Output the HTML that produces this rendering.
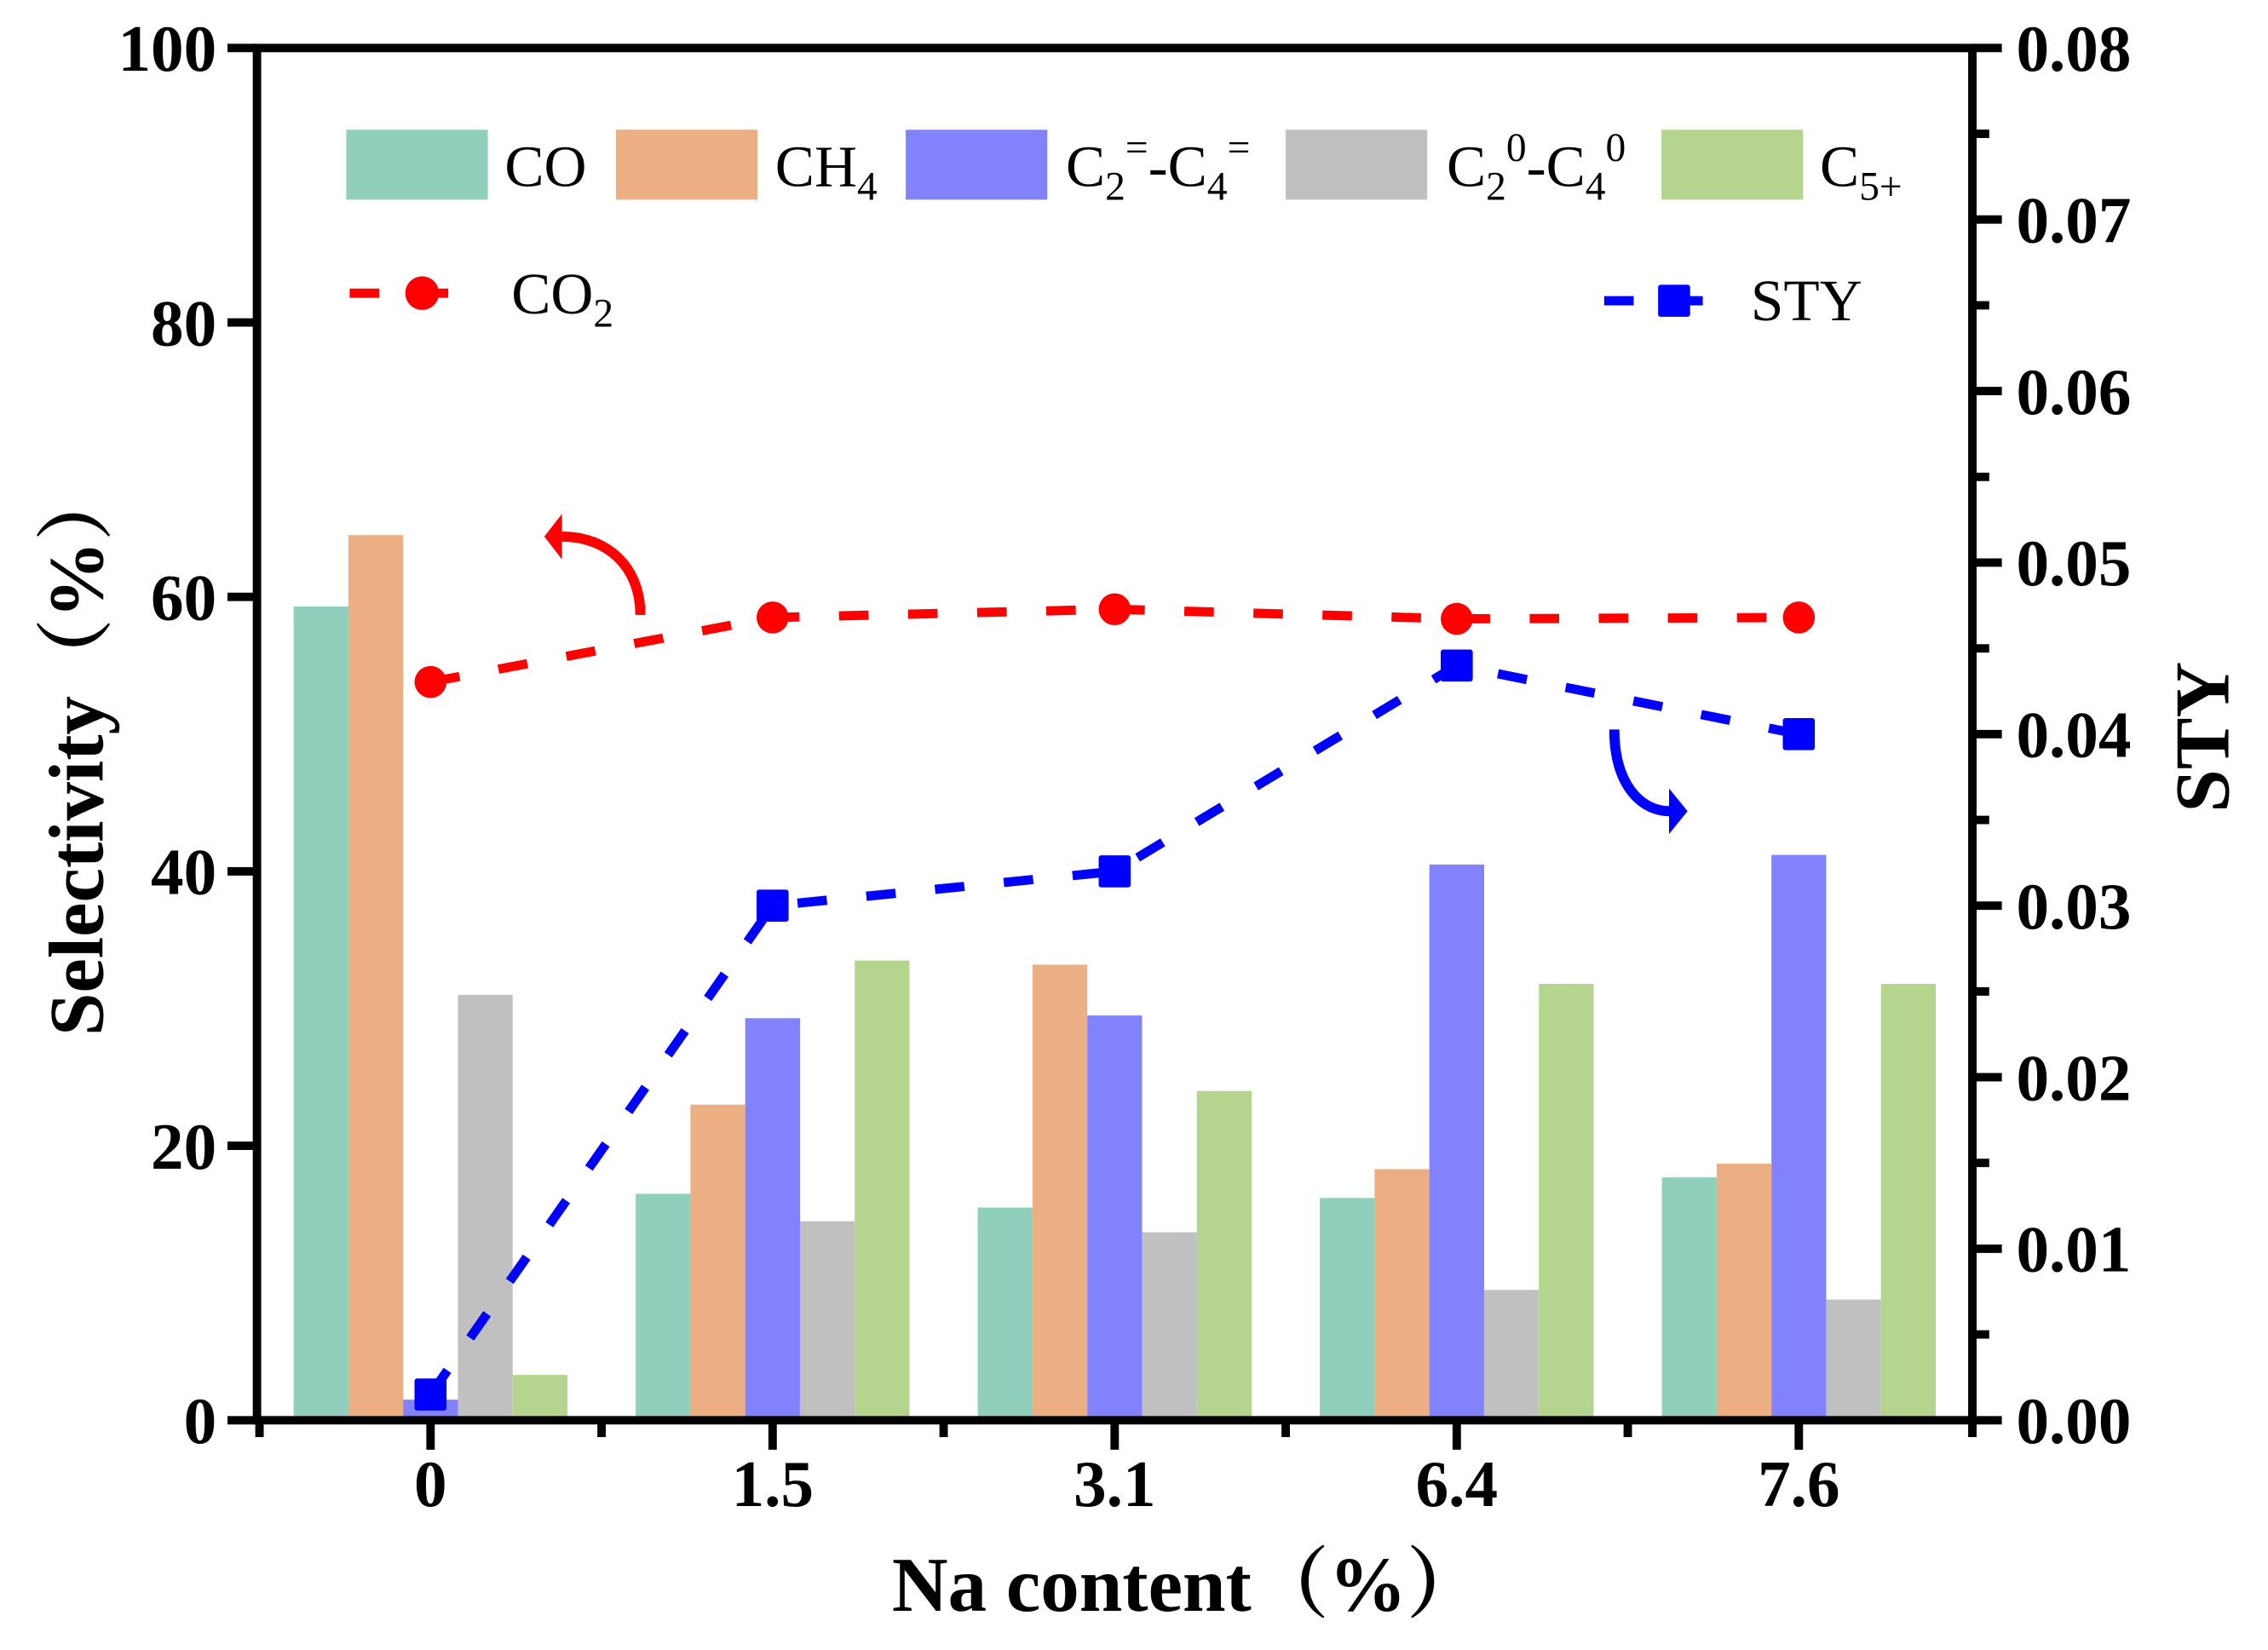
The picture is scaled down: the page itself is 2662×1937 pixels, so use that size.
<!DOCTYPE html>
<html><head><meta charset="utf-8"><style>
html,body{margin:0;padding:0;background:#fff;}
svg{display:block;}
text{font-family:"Liberation Serif","Noto Serif CJK SC",serif;}
</style></head><body>
<svg id="chart" width="2662" height="1937" viewBox="0 0 2662 1937" xmlns="http://www.w3.org/2000/svg">
<g transform="scale(0.9889)">
<g id="bars"></g>
<g id="lines"></g>
<g id="axes"></g>
<g font-size="70">
  <rect x="411" y="154" width="168" height="83" fill="#90cfbb"/>
  <text x="599" y="221">CO</text>
  <rect x="731" y="154" width="168" height="83" fill="#ebaf83"/>
  <text x="920" y="221">CH<tspan font-size="48" dy="16">4</tspan></text>
  <rect x="1075" y="154" width="168" height="83" fill="#8282fc"/>
  <text x="1265" y="221">C<tspan font-size="48" dy="16">2</tspan><tspan font-size="48" dy="-46">=</tspan><tspan dy="30">-C</tspan><tspan font-size="48" dy="16">4</tspan><tspan font-size="48" dy="-46">=</tspan></text>
  <rect x="1526" y="154" width="168" height="83" fill="#c0c0c0"/>
  <text x="1717" y="221">C<tspan font-size="48" dy="16">2</tspan><tspan font-size="48" dy="-46">0</tspan><tspan dy="30">-C</tspan><tspan font-size="48" dy="16">4</tspan><tspan font-size="48" dy="-46">0</tspan></text>
  <rect x="1972" y="154" width="168" height="83" fill="#b5d48e"/>
  <text x="2160" y="221">C<tspan font-size="48" dy="16">5+</tspan></text>
  <line x1="415" y1="348" x2="566" y2="348" stroke="#ff0000" stroke-width="11" stroke-dasharray="35,47"/>
  <ellipse cx="501" cy="348" rx="20" ry="20" fill="#ff0000"/>
  <text x="607" y="372">CO<tspan font-size="48" dy="16">2</tspan></text>
  <line x1="1904" y1="357" x2="2055" y2="357" stroke="#0000ff" stroke-width="11" stroke-dasharray="35,47"/>
  <rect x="1968" y="338" width="38" height="38" rx="3" fill="#0000ff"/>
  <text x="2078" y="380">STY</text>
</g>
<g>
  <path d="M760,730 C760,672 720,637 667,637" fill="none" stroke="#ff0000" stroke-width="12"/>
  <polygon points="646,637 667,610 667,664" fill="#ff0000"/>
  <path d="M1916,866 C1916,928 1945,963 1982,963" fill="none" stroke="#0000ff" stroke-width="12"/>
  <polygon points="2003,963 1981,936 1981,990" fill="#0000ff"/>
</g>
<text transform="translate(122,890) rotate(-90)" text-anchor="middle" font-size="92" font-weight="bold">Selectivity（%）</text>
<text transform="translate(2645,875) rotate(-90)" text-anchor="middle" font-size="92" font-weight="bold">STY</text>
<text x="1410" y="1912" text-anchor="middle" font-size="92" font-weight="bold">Na content（%）</text>
</g>
</svg>
<script>
const categories = ["0","1.5","3.1","6.4","7.6"];
const seriesNames = ["CO","CH4","C2=-C4=","C20-C40","C5+"];
const coVals = [59.3,16.5,15.5,16.2,17.7];
const ch4Vals = [64.5,23.0,33.2,18.3,18.7];
const olefinVals = [1.5,29.3,29.5,40.5,41.2];
const paraffinVals = [31.0,14.5,13.7,9.5,8.8];
const c5Vals = [3.3,33.5,24.0,31.8,31.8];
const co2Vals = [53.8,58.5,59.1,58.4,58.5];
const styVals = [0.0015,0.030,0.032,0.044,0.040];
const yTicks = [0,20,40,60,80,100];
const y2Ticks = [0,0.01,0.02,0.03,0.04,0.05,0.06,0.07,0.08];
const y2TickLabels = ["0.00","0.01","0.02","0.03","0.04","0.05","0.06","0.07","0.08"];

const NS="http://www.w3.org/2000/svg";
const L=305,R=2341,T=57,B=1686;
const X=i=>511+i*406;
const Y=v=>B-v*(B-T)/100;
const Y2=v=>B-v*(B-T)/0.08;
const BW=65;
function mk(tag,attrs,parent){const e=document.createElementNS(NS,tag);for(const k in attrs)e.setAttribute(k,attrs[k]);parent.appendChild(e);return e;}
const gb=document.getElementById('bars'),gl=document.getElementById('lines'),ga=document.getElementById('axes');
const allSeries=[coVals,ch4Vals,olefinVals,paraffinVals,c5Vals];
const colors=["#90cfbb","#ebaf83","#8282fc","#c0c0c0","#b5d48e"];
const barNames=["bar-co","bar-ch4","bar-c2c4-olefin","bar-c2c4-paraffin","bar-c5plus"];
allSeries.forEach((s,k)=>{s.forEach((v,i)=>{
  const r=mk('rect',{x:X(i)+(k-2.5)*BW,y:Y(v),width:BW,height:Y(0)-Y(v),fill:colors[k]},gb);
  
  
});});
let pts=co2Vals.map((v,i)=>X(i)+','+Y(v)).join(' ');
let pl=mk('polyline',{points:pts,fill:'none',stroke:'#ff0000','stroke-width':11,'stroke-dasharray':'35,47'},gl);


co2Vals.forEach((v,i)=>{const c=mk('ellipse',{cx:X(i),cy:Y(v),rx:19,ry:19,fill:'#ff0000'},gl);
  
  });
pts=styVals.map((v,i)=>X(i)+','+Y2(v)).join(' ');
pl=mk('polyline',{points:pts,fill:'none',stroke:'#0000ff','stroke-width':11,'stroke-dasharray':'35,47'},gl);


styVals.forEach((v,i)=>{const c=mk('rect',{x:X(i)-19,y:Y2(v)-19,width:38,height:38,rx:3,fill:'#0000ff'},gl);
  
  });
const f=mk('rect',{x:L,y:T,width:R-L,height:B-T,fill:'none',stroke:'#000','stroke-width':10},ga);


yTicks.forEach(v=>{mk('line',{x1:L-35,x2:L,y1:Y(v),y2:Y(v),stroke:'#000','stroke-width':10},ga);
  const t=mk('text',{x:L-48,y:Y(v)+27,'text-anchor':'end','font-size':78,'font-weight':'bold'},ga);t.textContent=v;
  
  });
y2Ticks.forEach((v,i)=>{mk('line',{x1:R,x2:R+35,y1:Y2(v),y2:Y2(v),stroke:'#000','stroke-width':10},ga);
  const t=mk('text',{x:R+52,y:Y2(v)+27,'font-size':78,'font-weight':'bold'},ga);t.textContent=y2TickLabels[i];
  
  
  if(i<y2Ticks.length-1)mk('line',{x1:R,x2:R+20,y1:(Y2(v)+Y2(y2Ticks[i+1]))/2,y2:(Y2(v)+Y2(y2Ticks[i+1]))/2,stroke:'#000','stroke-width':10},ga);});
categories.forEach((c,i)=>{mk('line',{x1:X(i),x2:X(i),y1:B,y2:B+35,stroke:'#000','stroke-width':10},ga);
  mk('line',{x1:X(i)-203,x2:X(i)-203,y1:B,y2:B+20,stroke:'#000','stroke-width':10},ga);
  const t=mk('text',{x:X(i),y:1788,'text-anchor':'middle','font-size':78,'font-weight':'bold'},ga);t.textContent=c;
  
  });
mk('line',{x1:R,x2:R,y1:B,y2:B+20,stroke:'#000','stroke-width':10},ga);
</script>
</body></html>
